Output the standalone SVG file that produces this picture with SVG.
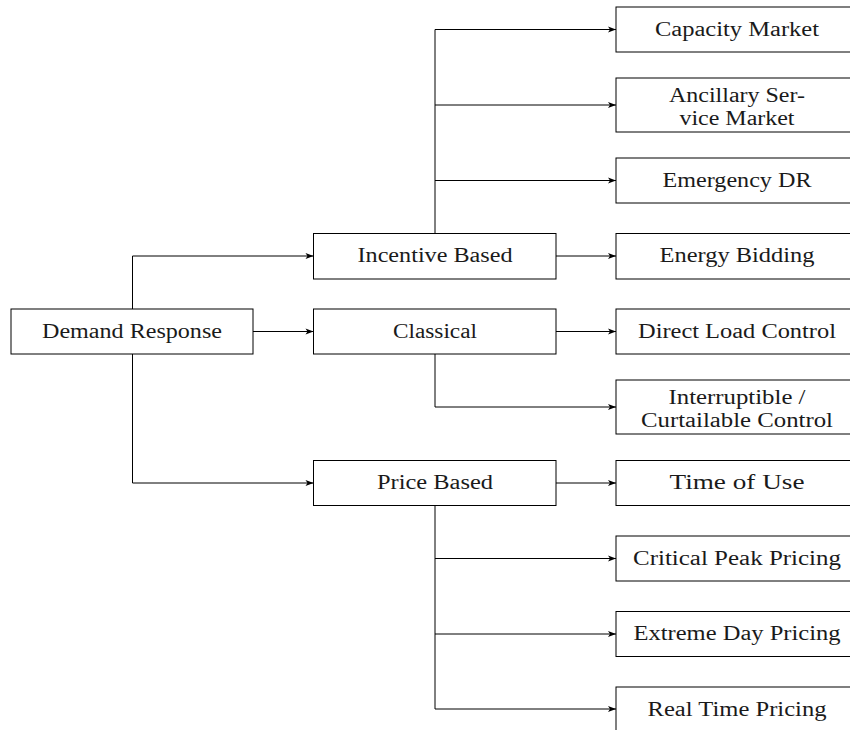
<svg xmlns="http://www.w3.org/2000/svg" width="850" height="730" viewBox="0 0 850 730">
<defs>
<marker id="ah" markerUnits="userSpaceOnUse" markerWidth="10" markerHeight="8" viewBox="-9 -4 10 8" refX="0" refY="0" orient="auto">
<path d="M-8,-3 L0,0 L-8,3 L-6,0 Z" fill="#000"/>
</marker>
<style>
rect{fill:#fff;stroke:#000;stroke-width:1}
text{font-family:"Liberation Serif","Times New Roman",serif;font-size:20px;fill:#1a1a1a;text-anchor:middle}
.c path{fill:none;stroke:#000;stroke-width:1}
.c .a{marker-end:url(#ah)}
</style>
</defs>
<rect x="0" y="0" width="850" height="730" style="fill:#fff;stroke:none"/>
<g class="c" id="connectors">
<path d="M132.5,309 V256 H313.5" class="a"/>
<path d="M253,331.5 H313.5" class="a"/>
<path d="M132.5,354 V483 H313.5" class="a"/>
<path d="M435,233.5 V29.5"/>
<path d="M435,29.5 H616" class="a"/>
<path d="M435,105 H616" class="a"/>
<path d="M435,180.5 H616" class="a"/>
<path d="M556,256 H616" class="a"/>
<path d="M556,331.5 H616" class="a"/>
<path d="M435,354 V407 H616" class="a"/>
<path d="M556,483 H616" class="a"/>
<path d="M435,505 V709"/>
<path d="M435,558.5 H616" class="a"/>
<path d="M435,634 H616" class="a"/>
<path d="M435,709 H616" class="a"/>
</g>
<g id="n-dr"><rect x="11" y="309" width="242" height="45"/><text x="132" y="337.5" textLength="180" lengthAdjust="spacingAndGlyphs">Demand Response</text></g>
<g id="n-ib"><rect x="313.5" y="233.5" width="242.5" height="45.5"/><text x="435" y="262" textLength="155" lengthAdjust="spacingAndGlyphs">Incentive Based</text></g>
<g id="n-cl"><rect x="313.5" y="309" width="242.5" height="45"/><text x="435" y="337.5" textLength="84" lengthAdjust="spacingAndGlyphs">Classical</text></g>
<g id="n-pb"><rect x="313.5" y="460.5" width="242.5" height="45"/><text x="435" y="489" textLength="116" lengthAdjust="spacingAndGlyphs">Price Based</text></g>
<g id="n-cm"><rect x="616" y="7" width="242" height="45"/><text x="737" y="35.5" textLength="164" lengthAdjust="spacingAndGlyphs">Capacity Market</text></g>
<g id="n-as"><rect x="616" y="78" width="242" height="54"/><text x="737" y="101.5" textLength="136" lengthAdjust="spacingAndGlyphs">Ancillary Ser-</text><text x="737" y="124.5" textLength="115" lengthAdjust="spacingAndGlyphs">vice Market</text></g>
<g id="n-ed"><rect x="616" y="158" width="242" height="45"/><text x="737" y="186.5" textLength="149" lengthAdjust="spacingAndGlyphs">Emergency DR</text></g>
<g id="n-eb"><rect x="616" y="233.5" width="242" height="45.5"/><text x="737" y="262" textLength="155" lengthAdjust="spacingAndGlyphs">Energy Bidding</text></g>
<g id="n-dl"><rect x="616" y="309" width="242" height="45"/><text x="737" y="337.5" textLength="198" lengthAdjust="spacingAndGlyphs">Direct Load Control</text></g>
<g id="n-ic"><rect x="616" y="380" width="242" height="54"/><text x="737" y="403.5" textLength="137" lengthAdjust="spacingAndGlyphs">Interruptible /</text><text x="737" y="426.5" textLength="192" lengthAdjust="spacingAndGlyphs">Curtailable Control</text></g>
<g id="n-tu"><rect x="616" y="460.5" width="242" height="45"/><text x="737" y="489" textLength="135" lengthAdjust="spacingAndGlyphs">Time of Use</text></g>
<g id="n-cp"><rect x="616" y="536" width="242" height="45"/><text x="737" y="564.5" textLength="208" lengthAdjust="spacingAndGlyphs">Critical Peak Pricing</text></g>
<g id="n-xd"><rect x="616" y="611.5" width="242" height="45"/><text x="737" y="640" textLength="207" lengthAdjust="spacingAndGlyphs">Extreme Day Pricing</text></g>
<g id="n-rt"><rect x="616" y="687" width="242" height="45"/><text x="737" y="715.5" textLength="179" lengthAdjust="spacingAndGlyphs">Real Time Pricing</text></g>
</svg>
